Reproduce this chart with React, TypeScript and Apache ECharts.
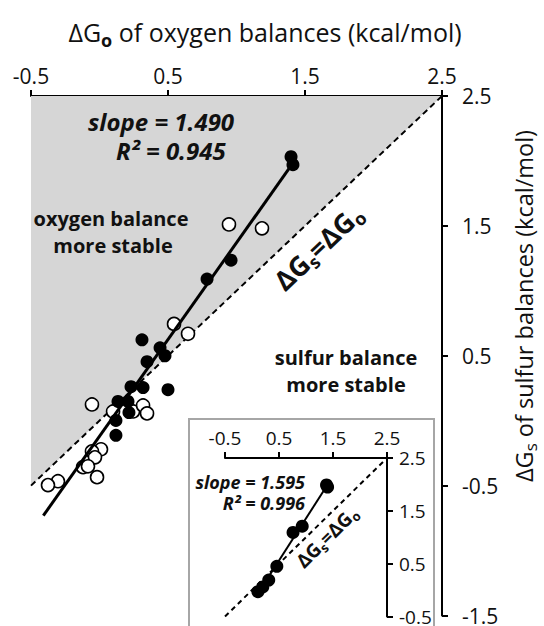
import React, { useEffect, useRef } from "react";
import * as echarts from "echarts";

// ---- data ----
const xTicks = [-0.5, 0.5, 1.5, 2.5];
const yTicks = [-1.5, -0.5, 0.5, 1.5, 2.5];
const insetXTicks = [-0.5, 0.5, 1.5, 2.5];
const insetYTicks = [-0.5, 0.5, 1.5, 2.5];

const filledX = [1.398, 1.412, 0.96, 0.785, 0.31, 0.442, 0.478, 0.347, 0.23, 0.318, 0.5, 0.135, 0.208, 0.215, 0.12, 0.12];
const filledY = [2.033, 1.971, 1.236, 1.09, 0.623, 0.561, 0.5, 0.454, 0.262, 0.255, 0.239, 0.148, 0.148, 0.063, 0.002, -0.113];

const openX = [0.945, 1.186, 0.544, 0.646, -0.055, 0.099, 0.245, 0.318, 0.347, 0.011, -0.055, -0.033, -0.12, -0.084, -0.018, -0.303, -0.376];
const openY = [1.511, 1.481, 0.745, 0.669, 0.125, 0.071, 0.071, 0.117, 0.056, -0.22, -0.236, -0.282, -0.358, -0.351, -0.435, -0.466, -0.496];

const diagX = [-0.5, 2.5];
const diagY = [-0.5, 2.5];
const fitX = [-0.41, 1.41];
const fitY = [-0.731, 1.981];

const insetX = [1.38, 1.4, 0.93, 0.76, 0.46, 0.31, 0.2, 0.11];
const insetY = [1.99, 1.95, 1.21, 1.09, 0.45, 0.19, 0.06, -0.03];
const insetFitX = [0.1, 1.39];
const insetFitY = [-0.08, 1.98];

const FONT = "'Open Sans', 'Noto Sans', sans-serif";

const zip = (a: number[], b: number[]) => a.map((v, i) => [v, b[i]]);

function axisX(grid: number, ticks: number[], fontSize: number, margin: number) {
  return {
    gridIndex: grid,
    type: "value",
    position: "top",
    min: ticks[0],
    max: ticks[ticks.length - 1],
    axisLine: { show: true, onZero: false, lineStyle: { color: "#000", width: 2 } },
    axisTick: { show: true, inside: false, length: 6, customValues: ticks, lineStyle: { color: "#000", width: 2 } },
    axisLabel: {
      customValues: ticks,
      margin,
      fontSize,
      color: "#111",
      fontFamily: FONT,
      formatter: (v: number) => v.toFixed(1),
    },
    splitLine: { show: false },
  };
}

function axisY(grid: number, ticks: number[], fontSize: number, margin: number) {
  return {
    gridIndex: grid,
    type: "value",
    position: "right",
    min: ticks[0],
    max: ticks[ticks.length - 1],
    axisLine: { show: true, onZero: false, lineStyle: { color: "#000", width: 2 } },
    axisTick: { show: true, inside: false, length: 6, customValues: ticks, lineStyle: { color: "#000", width: 2 } },
    axisLabel: {
      customValues: ticks,
      margin,
      fontSize,
      color: "#111",
      fontFamily: FONT,
      formatter: (v: number) => v.toFixed(1),
    },
    splitLine: { show: false },
  };
}

const txt = (x: number, y: number, text: string, size: number, extra: any = {}) => ({
  type: "text",
  x,
  y,
  z: 100,
  style: {
    text,
    align: "center",
    verticalAlign: "middle",
    fontSize: size,
    lineHeight: size,
    fontWeight: "bold",
    fontFamily: FONT,
    fill: "#111",
    ...extra,
  },
});

export default function App() {
  const ref = useRef<HTMLDivElement>(null);
  useEffect(() => {
    if (!ref.current) return;
    const chart = echarts.init(ref.current, undefined, { renderer: "svg" });
    const option: any = {
      animation: false,
      backgroundColor: "#fff",
      grid: [
        { left: 31, right: 102, top: 96, bottom: 8 },
        { left: 225, right: 157, top: 458, bottom: 8 },
      ],
      xAxis: [axisX(0, xTicks, 21, 10), axisX(1, insetXTicks, 19, 11)],
      yAxis: [axisY(0, yTicks, 21, 20), axisY(1, insetYTicks, 19, 12)],
      graphic: [
        {
          type: "rect",
          z: -10,
          shape: { x: 189, y: 419, width: 245, height: 230 },
          style: { fill: "#fff", stroke: "#a6a6a6", lineWidth: 2 },
        },
        {
          type: "text",
          x: 265,
          y: 32,
          z: 100,
          style: {
            text: "{a|ΔG}{b|o}{a| of oxygen balances (kcal/mol)}",
            align: "center",
            verticalAlign: "middle",
            rich: {
              a: { fontSize: 25, fontFamily: FONT, fill: "#111", lineHeight: 34 },
              b: { fontSize: 18, fontFamily: FONT, fontWeight: "bold", fill: "#111", lineHeight: 14, verticalAlign: "bottom" },
            },
          },
        },
        {
          type: "text",
          x: 524,
          y: 306,
          z: 100,
          rotation: Math.PI / 2,
          style: {
            text: "{a|ΔG}{b|s}{a| of sulfur balances (kcal/mol)}",
            align: "center",
            verticalAlign: "middle",
            rich: {
              a: { fontSize: 23.5, fontFamily: FONT, fill: "#111", lineHeight: 30 },
              b: { fontSize: 17, fontFamily: FONT, fill: "#111", lineHeight: 14, verticalAlign: "bottom" },
            },
          },
        },
        txt(88, 121, "slope = 1.490", 24, { align: "left", fontStyle: "italic" }),
        txt(116, 150, "R² = 0.945", 24, { align: "left", fontStyle: "italic" }),
        txt(111, 218, "oxygen balance", 20),
        txt(113, 245, "more stable", 20),
        txt(346, 357, "sulfur balance", 20),
        txt(346, 384, "more stable", 20),
        {
          type: "text",
          x: 318,
          y: 247,
          z: 100,
          rotation: 0.76,
          style: {
            text: "{a|ΔG}{b|s}{a|=ΔG}{b|o}",
            align: "center",
            verticalAlign: "middle",
            rich: {
              a: { fontSize: 27, fontWeight: "bold", fontFamily: FONT, fill: "#111", lineHeight: 34 },
              b: { fontSize: 18, fontWeight: "bold", fontFamily: FONT, fill: "#111", lineHeight: 12, verticalAlign: "bottom" },
            },
          },
        },
        txt(305, 482, "slope = 1.595", 18, { align: "right", fontStyle: "italic" }),
        txt(305, 503, "R² = 0.996", 18, { align: "right", fontStyle: "italic" }),
        {
          type: "text",
          x: 327,
          y: 537,
          z: 100,
          rotation: 0.78,
          style: {
            text: "{a|ΔG}{b|s}{a|=ΔG}{b|o}",
            align: "center",
            verticalAlign: "middle",
            rich: {
              a: { fontSize: 19, fontWeight: "bold", fontFamily: FONT, fill: "#111", lineHeight: 24 },
              b: { fontSize: 13, fontWeight: "bold", fontFamily: FONT, fill: "#111", lineHeight: 9, verticalAlign: "bottom" },
            },
          },
        },
      ],
      series: [
        {
          type: "line",
          xAxisIndex: 0,
          yAxisIndex: 0,
          data: zip(diagX, diagY),
          symbol: "none",
          lineStyle: { color: "#000", width: 2, type: [6, 4] },
          areaStyle: { origin: "end", color: "#d6d6d6", opacity: 1 },
          z: 1,
        },
        {
          type: "scatter",
          xAxisIndex: 0,
          yAxisIndex: 0,
          data: zip(openX, openY),
          symbolSize: 13,
          itemStyle: { color: "#fff", borderColor: "#000", borderWidth: 1.6, opacity: 1 },
          z: 2,
        },
        {
          type: "line",
          xAxisIndex: 0,
          yAxisIndex: 0,
          data: zip(fitX, fitY),
          symbol: "none",
          lineStyle: { color: "#000", width: 3 },
          z: 3,
        },
        {
          type: "scatter",
          xAxisIndex: 0,
          yAxisIndex: 0,
          data: zip(filledX, filledY),
          symbolSize: 13,
          itemStyle: { color: "#000", opacity: 1 },
          z: 4,
        },
        {
          type: "line",
          xAxisIndex: 1,
          yAxisIndex: 1,
          data: zip(diagX, diagY),
          symbol: "none",
          lineStyle: { color: "#000", width: 2, type: [5, 4] },
          z: 1,
        },
        {
          type: "line",
          xAxisIndex: 1,
          yAxisIndex: 1,
          data: zip(insetFitX, insetFitY),
          symbol: "none",
          lineStyle: { color: "#000", width: 2 },
          z: 3,
        },
        {
          type: "scatter",
          xAxisIndex: 1,
          yAxisIndex: 1,
          data: zip(insetX, insetY),
          symbolSize: 13,
          itemStyle: { color: "#000", opacity: 1 },
          z: 4,
        },
      ],
    };
    chart.setOption(option);
    return () => chart.dispose();
  }, []);
  return (
    <div
      ref={ref}
      style={{ position: "absolute", left: 0, top: 0, width: 544, height: 626, background: "#fff" }}
    />
  );
}
